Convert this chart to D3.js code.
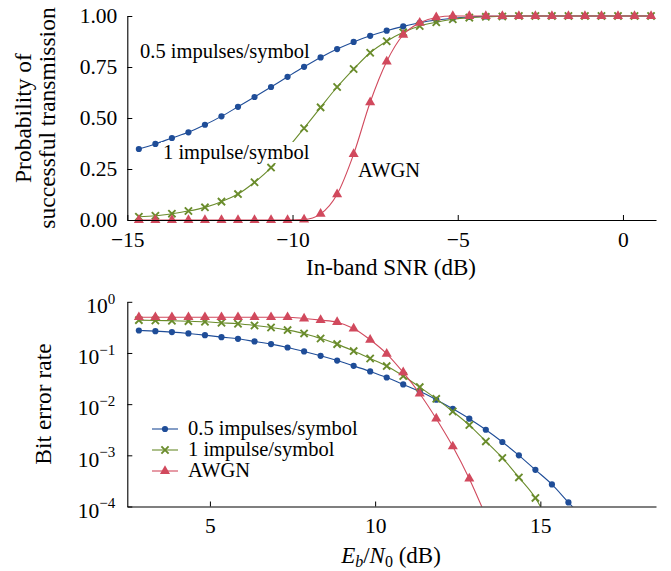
<!DOCTYPE html>
<html>
<head>
<meta charset="utf-8">
<script src="https://cdn.jsdelivr.net/npm/d3@7"></script>
<style>
  html, body { margin: 0; padding: 0; background: #fff; }
  svg { display: block; font-family: "Liberation Serif", "Times New Roman", serif; }
</style>
</head>
<body>
<svg id="chart" width="671" height="571"></svg>
<script>
// ---- data -------------------------------------------------------------
// In-band SNR grid (dB) for the success-probability panel
const snrDb = [-14.65, -14.15, -13.65, -13.15, -12.65, -12.15, -11.65, -11.15,
               -10.65, -10.15, -9.65, -9.15, -8.65, -8.15, -7.65, -7.15,
               -6.65, -6.15, -5.65, -5.15, -4.65, -4.15, -3.65, -3.15,
               -2.65, -2.15, -1.65, -1.15, -0.65, -0.15, 0.35, 0.85];
const succHalf = [0.348, 0.373, 0.402, 0.430, 0.467, 0.508, 0.555, 0.603,
                  0.652, 0.702, 0.751, 0.797, 0.838, 0.873, 0.903, 0.928,
                  0.949, 0.967, 0.980, 0.989, 0.995, 0.998, 0.999, 1.0,
                  1.0, 1.0, 1.0, 1.0, 1.0, 1.0, 1.0, 1.0];
const succOne = [0.016, 0.021, 0.031, 0.044, 0.062, 0.090, 0.127, 0.185,
                 0.257, 0.351, 0.450, 0.552, 0.652, 0.740, 0.820, 0.876,
                 0.920, 0.951, 0.969, 0.984, 0.992, 0.996, 0.998, 1.0,
                 1.0, 1.0, 1.0, 1.0, 1.0, 1.0, 1.0, 1.0];
const succAwgn = [0.0, 0.0, 0.0, 0.0, 0.0, 0.0, 0.0, 0.0,
                  0.0, 0.0, 0.002, 0.03, 0.126, 0.323, 0.577, 0.777,
                  0.908, 0.967, 0.993, 1.0, 1.0, 1.0, 1.0, 1.0,
                  1.0, 1.0, 1.0, 1.0, 1.0, 1.0, 1.0, 1.0];

// Eb/N0 grid (dB) for the bit-error-rate panel
const ebn0Db = [2.85, 3.35, 3.85, 4.35, 4.85, 5.35, 5.85, 6.35, 6.85, 7.35,
                7.85, 8.35, 8.85, 9.35, 9.85, 10.35, 10.85, 11.35, 11.85, 12.35,
                12.85, 13.35, 13.85, 14.35, 14.85, 15.35, 15.85, 16.35];
const berHalf = [0.275, 0.267, 0.256, 0.241, 0.223, 0.204, 0.189, 0.168, 0.149, 0.128,
                 0.107, 0.088, 0.071, 0.056, 0.0436, 0.0332, 0.0243, 0.0178, 0.0122, 0.0081,
                 0.0052, 0.00316, 0.00182, 0.0010, 0.00052, 0.00027, 0.00012, 0.000055];
const berOne = [0.438, 0.432, 0.426, 0.418, 0.407, 0.389, 0.372, 0.345, 0.315, 0.280,
                0.241, 0.192, 0.149, 0.109, 0.078, 0.0554, 0.0354, 0.0215, 0.0127, 0.0072,
                0.0039, 0.00187, 0.00089, 0.00037, 0.000147, 0.000037];
const berAwgn = [0.5, 0.5, 0.5, 0.5, 0.5, 0.5, 0.5, 0.5, 0.5, 0.5,
                 0.472, 0.438, 0.40, 0.301, 0.181, 0.0965, 0.0417, 0.016, 0.0052, 0.00149,
                 0.00035, 0.000065];

const seriesNames  = ["0.5 impulses/symbol", "1 impulse/symbol", "AWGN"];
const seriesShapes = ["circle", "cross", "triangle"];
const seriesColors = ["#1f4d98", "#6a8c2c", "#d1495d"];

const probTicks = [0, 0.25, 0.5, 0.75, 1];
const probTickLabels = ["0.00", "0.25", "0.50", "0.75", "1.00"];
const snrTicks = [-15, -10, -5, 0];
const snrTickLabels = ["\u221215", "\u221210", "\u22125", "0"];
const ebn0Ticks = [5, 10, 15];
const berTicks = [1e-4, 1e-3, 1e-2, 1e-1, 1];
const berExponents = ["\u22124", "\u22123", "\u22122", "\u22121", "0"];

// ---- layout -----------------------------------------------------------
const FONT = 21.5;      // tick labels
const NOTE_FONT = 20.5; // curve labels and legend
const XT_FONT = 23;     // horizontal axis titles
const YT_FONT = 23.5;   // vertical axis titles
const svg = d3.select("#chart");
svg.append("rect").attr("width", 671).attr("height", 571).attr("fill", "#fff");

const xLeft = 127.3, xRight = 656;
const xSnr = d3.scaleLinear().domain([-15, 1]).range([xLeft, xRight]);
const yProb = d3.scaleLinear().domain([0, 1]).range([220, 16]);
const xEb = d3.scaleLinear().domain([2.5, 18.5]).range([xLeft, xRight]);
const yBer = d3.scaleLog().domain([1e-4, 1]).range([506.5, 301.8]);

function drawMarker(g, shape, color, x, y) {
  if (shape === "circle") {
    g.append("circle").attr("cx", x).attr("cy", y).attr("r", 3.1).attr("fill", color);
  } else if (shape === "triangle") {
    g.append("path")
      .attr("transform", `translate(${x},${y})`)
      .attr("d", d3.symbol(d3.symbolTriangle, 44)())
      .attr("fill", color);
  } else {
    const s = 3.6;
    g.append("path")
      .attr("d", `M${x - s},${y - s}L${x + s},${y + s}M${x - s},${y + s}L${x + s},${y - s}`)
      .attr("stroke", color).attr("stroke-width", 1.9).attr("fill", "none");
  }
}

function drawSeries(g, xs, ys, xScale, yScale, color, shape, clipId, yMin) {
  const pts = ys.map((v, i) => [xs[i], v]);
  const line = d3.line()
    .x(d => xScale(d[0])).y(d => yScale(d[1]))
    .curve(d3.curveMonotoneX);
  const path = g.append("path").attr("d", line(pts))
    .attr("fill", "none").attr("stroke", color).attr("stroke-width", 1.1);
  if (clipId) path.attr("clip-path", `url(#${clipId})`);
  const mg = g.append("g");
  pts.forEach(d => {
    if (yMin !== undefined && d[1] < yMin) return;
    drawMarker(mg, shape, color, xScale(d[0]), yScale(d[1]));
  });
}

function styleAxis(g) {
  g.selectAll("path.domain").attr("stroke", "#000").attr("stroke-width", 1.1);
  g.selectAll(".tick line").attr("stroke", "#000").attr("stroke-width", 1);
  g.selectAll("text").attr("font-size", FONT).attr("fill", "#000")
    .attr("font-family", "'Liberation Serif', 'Times New Roman', serif");
}

// ---- upper panel: probability of successful transmission --------------
const upper = svg.append("g");
const upperSeries = [succHalf, succOne, succAwgn];
upperSeries.forEach((ys, i) => drawSeries(upper, snrDb, ys, xSnr, yProb, seriesColors[i], seriesShapes[i]));

const upperX = upper.append("g").attr("transform", `translate(0,${yProb(0)})`)
  .call(d3.axisBottom(xSnr).tickValues(snrTicks)
    .tickFormat((d, i) => snrTickLabels[i]).tickSizeInner(-5).tickSizeOuter(0).tickPadding(12));
styleAxis(upperX);
const upperY = upper.append("g").attr("transform", `translate(${xLeft},0)`)
  .call(d3.axisLeft(yProb).tickValues(probTicks)
    .tickFormat((d, i) => probTickLabels[i]).tickSizeInner(-5).tickSizeOuter(0).tickPadding(10));
styleAxis(upperY);

// curve annotations
upper.append("text").attr("x", 140).attr("y", 57.5).attr("font-size", NOTE_FONT)
  .text(seriesNames[0]);
const oneLabel = upper.append("text").attr("x", 163).attr("y", 159).attr("font-size", NOTE_FONT)
  .text(seriesNames[1]);
const bb = oneLabel.node().getBBox();
upper.insert("rect", () => oneLabel.node())
  .attr("x", bb.x - 2).attr("y", bb.y + 1).attr("width", bb.width + 4).attr("height", bb.height - 2)
  .attr("fill", "#fff");
upper.append("text").attr("x", 358).attr("y", 176.5).attr("font-size", NOTE_FONT)
  .text(seriesNames[2]);

// axis titles
upper.append("text").attr("x", 391).attr("y", 275).attr("text-anchor", "middle")
  .attr("font-size", XT_FONT).text("In-band SNR (dB)");
const yTitle = upper.append("g").attr("transform", "translate(0,118) rotate(-90)")
  .attr("font-size", YT_FONT).attr("text-anchor", "middle");
yTitle.append("text").attr("x", 0).attr("y", 31).text("Probability of");
yTitle.append("text").attr("x", 0).attr("y", 55).text("successful transmission");

// ---- lower panel: bit error rate --------------------------------------
const lower = svg.append("g");
lower.append("clipPath").attr("id", "berClip").append("rect")
  .attr("x", xLeft).attr("y", 0).attr("width", xRight - xLeft).attr("height", yBer(1e-4));
const lowerSeries = [berHalf, berOne, berAwgn];
lowerSeries.forEach((ys, i) => drawSeries(lower, ebn0Db, ys, xEb, yBer, seriesColors[i], seriesShapes[i], "berClip", 1e-4));

const lowerX = lower.append("g").attr("transform", `translate(0,${yBer(1e-4)})`)
  .call(d3.axisBottom(xEb).tickValues(ebn0Ticks).tickFormat(d3.format("d"))
    .tickSizeInner(-5).tickSizeOuter(0).tickPadding(11));
styleAxis(lowerX);
const lowerY = lower.append("g").attr("transform", `translate(${xLeft},0)`)
  .call(d3.axisLeft(yBer).tickValues(berTicks).tickFormat(() => "")
    .tickSizeInner(-5).tickSizeOuter(0).tickPadding(12));
styleAxis(lowerY);
lowerY.selectAll(".tick text").each(function (d, i) {
  const t = d3.select(this).attr("dy", "0.5em");
  t.append("tspan").text("10");
  t.append("tspan").attr("font-size", 15).attr("dy", -9.5).text(berExponents[i]);
});

// legend
const legend = lower.append("g");
const legendBase = [435, 456, 477];
seriesNames.forEach((name, i) => {
  const yy = legendBase[i] - 6;
  legend.append("line").attr("x1", 152).attr("x2", 178).attr("y1", yy).attr("y2", yy)
    .attr("stroke", seriesColors[i]).attr("stroke-width", 1.1);
  drawMarker(legend, seriesShapes[i], seriesColors[i], 165, yy);
  legend.append("text").attr("x", 188).attr("y", legendBase[i]).attr("font-size", NOTE_FONT).text(name);
});

// axis titles
const ebTitle = lower.append("text").attr("x", 391).attr("y", 563).attr("text-anchor", "middle")
  .attr("font-size", XT_FONT);
ebTitle.append("tspan").attr("font-style", "italic").text("E");
ebTitle.append("tspan").attr("font-style", "italic").attr("font-size", 16).attr("dy", 4).text("b");
ebTitle.append("tspan").attr("dy", -4).text("/");
ebTitle.append("tspan").attr("font-style", "italic").text("N");
ebTitle.append("tspan").attr("font-size", 16).attr("dy", 4).text("0");
ebTitle.append("tspan").attr("dy", -4).text("\u00a0(dB)");

lower.append("text").attr("transform", "translate(51,404) rotate(-90)")
  .attr("text-anchor", "middle").attr("font-size", YT_FONT).text("Bit error rate");
</script>
</body>
</html>
